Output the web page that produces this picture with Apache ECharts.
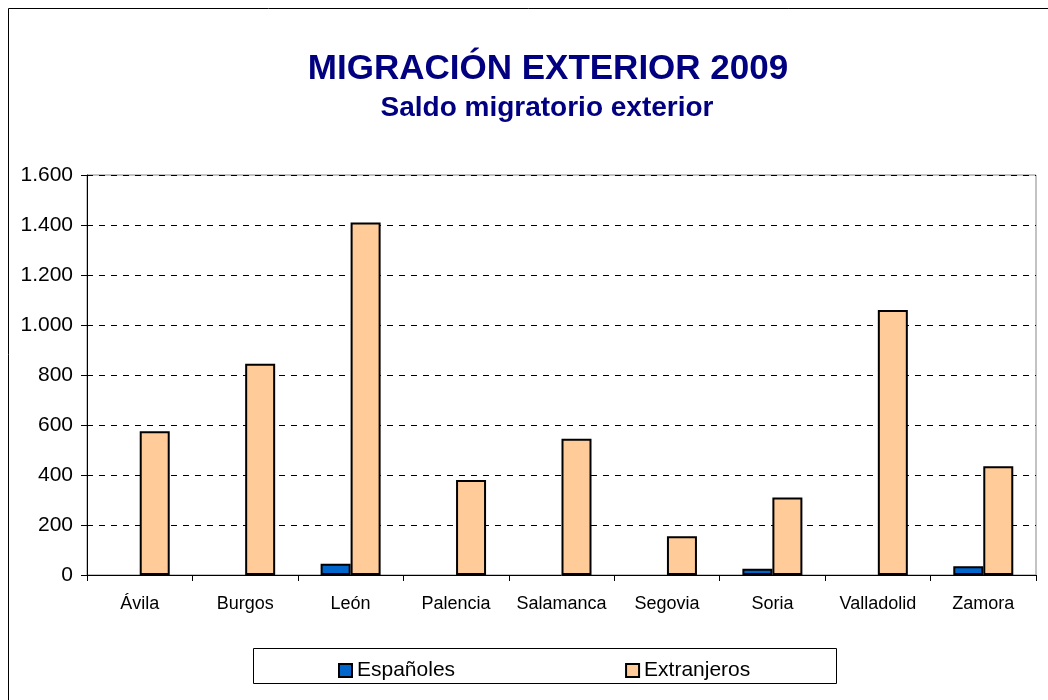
<!DOCTYPE html>
<html>
<head>
<meta charset="utf-8">
<script src="https://cdn.jsdelivr.net/npm/echarts@6/dist/echarts.min.js"></script>
<style>
html,body{margin:0;padding:0;background:#fff;}
#c{width:1048px;height:700px;}
</style>
</head>
<body>
<div id="c"></div>
<script>
const categories = ['Ávila','Burgos','León','Palencia','Salamanca','Segovia','Soria','Valladolid','Zamora'];
const espanoles = [0, 0, 45, 0, 0, 0, 25, 0, 35];
const extranjeros = [575, 845, 1410, 380, 545, 155, 310, 1060, 435];
const seriesNames = ['Españoles','Extranjeros'];
const titleText = 'MIGRACIÓN EXTERIOR 2009';
const subtitleText = 'Saldo migratorio exterior';

const FONT = 'Liberation Sans, Arial, sans-serif';
const chart = echarts.init(document.getElementById('c'), null, {renderer:'canvas'});
chart.setOption({
  animation:false,
  backgroundColor:'#ffffff',
  title:[
    {text: titleText, left:543, textAlign:'center', top:47,
     textStyle:{fontFamily:FONT, fontSize:35, fontWeight:'bold', color:'#000080'}},
    {text: subtitleText, left:542, textAlign:'center', top:89,
     textStyle:{fontFamily:FONT, fontSize:28, fontWeight:'bold', color:'#000080'}}
  ],
  graphic:[
    {type:'rect', shape:{x:8.5,y:8.5,width:1045,height:700}, style:{fill:'none', stroke:'#000', lineWidth:1}, silent:true},
    {type:'rect', shape:{x:253.5,y:648.5,width:583,height:35}, style:{fill:'#fff', stroke:'#000', lineWidth:1}, silent:true, z:-1}
  ],
  legend:{
    left:338, top:660, padding:0,
    itemWidth:13, itemHeight:13, itemGap:170,
    icon:'rect',
    textStyle:{fontFamily:FONT, fontSize:21, color:'#000', padding:[0,0,0,0]},
    data: seriesNames
  },
  grid:{left:87, right:12, top:175, bottom:125, show:true, borderColor:'#888', borderWidth:1, backgroundColor:'transparent'},
  xAxis:{
    type:'category', data:categories,
    axisLine:{lineStyle:{color:'#000', width:1}},
    axisTick:{show:true, interval:0, length:6, lineStyle:{color:'#000'}},
    axisLabel:{fontFamily:FONT, fontSize:18, color:'#000', margin:20, interval:0}
  },
  yAxis:{
    type:'value', min:0, max:1600, interval:200,
    axisLine:{show:true, lineStyle:{color:'#000', width:1}},
    axisTick:{show:true, length:6, lineStyle:{color:'#000'}},
    axisLabel:{fontFamily:FONT, fontSize:21, color:'#000', margin:14,
      formatter: v => v.toString().replace(/\B(?=(\d{3})+(?!\d))/g,'.')},
    splitLine:{show:true, lineStyle:{color:'#000', type:[6,6], width:1}}
  },
  series:[
    {name:seriesNames[0], type:'bar', data:espanoles.map(v => v === 0 ? '-' : v), barWidth:30, barGap:'0%',
      itemStyle:{color:'#0066CC', borderColor:'#000', borderWidth:2}},
    {name:seriesNames[1], type:'bar', data:extranjeros, barWidth:30, barGap:'0%',
      itemStyle:{color:'#FFCC99', borderColor:'#000', borderWidth:2}}
  ]
});
</script>
</body>
</html>
